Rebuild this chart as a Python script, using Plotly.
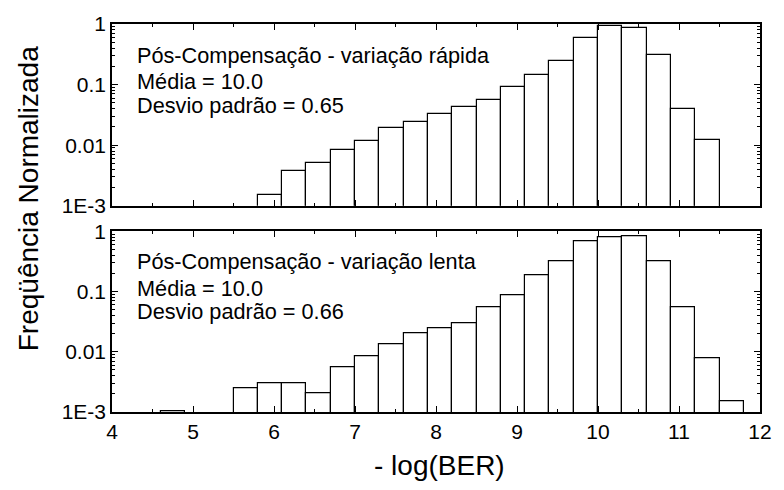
import plotly.graph_objects as go
from plotly.subplots import make_subplots

# Bin centres (-log(BER)), bin width 0.3
x_rapida = [5.95, 6.25, 6.55, 6.85, 7.15, 7.45, 7.75, 8.05, 8.35, 8.65,
            8.95, 9.25, 9.55, 9.85, 10.15, 10.45, 10.75, 11.05, 11.35]
y_rapida = [0.00153, 0.0038, 0.00501, 0.00836, 0.0117, 0.0193, 0.0242, 0.0330,
            0.0419, 0.0558, 0.0908, 0.1425, 0.241, 0.577, 0.940, 0.850, 0.313,
            0.0398, 0.0120]

x_lenta = [4.75, 5.65, 5.95, 6.25, 6.55, 6.85, 7.15, 7.45, 7.75, 8.05, 8.35,
           8.65, 8.95, 9.25, 9.55, 9.85, 10.15, 10.45, 10.75, 11.05, 11.35, 11.65]
y_lenta = [0.00101, 0.00249, 0.0030, 0.0030, 0.00201, 0.00554, 0.00857, 0.0133,
           0.0203, 0.0242, 0.0295, 0.0538, 0.0876, 0.185, 0.321, 0.679, 0.789,
           0.829, 0.321, 0.0551, 0.00776, 0.00149]

bin_width = 0.3

x_tickvals = [4, 5, 6, 7, 8, 9, 10, 11, 12]
x_minor = [4.5, 5.5, 6.5, 7.5, 8.5, 9.5, 10.5, 11.5]
y_tickvals = [0.001, 0.01, 0.1, 1]
y_ticktext = ["1E-3", "0.01", "0.1", "1"]
y_minor = [m * 10 ** e for e in (-3, -2, -1) for m in range(2, 10)]

texts_rapida = ["Pós-Compensação - variação rápida", "Média = 10.0", "Desvio padrão = 0.65"]
texts_lenta = ["Pós-Compensação - variação lenta", "Média = 10.0", "Desvio padrão = 0.66"]

FONT = "Liberation Sans, Arial, sans-serif"

fig = make_subplots(rows=2, cols=1, shared_xaxes=False, vertical_spacing=0.0)

fig.add_trace(go.Bar(x=x_rapida, y=y_rapida, width=bin_width,
                     marker=dict(color="white", line=dict(color="black", width=1.2)),
                     showlegend=False), row=1, col=1)
fig.add_trace(go.Bar(x=x_lenta, y=y_lenta, width=bin_width,
                     marker=dict(color="white", line=dict(color="black", width=1.2)),
                     showlegend=False), row=2, col=1)

common_x = dict(range=[4, 12], tickmode="array", tickvals=x_tickvals,
                ticks="inside", ticklen=6, tickwidth=1.2, tickcolor="black",
                showline=True, linecolor="black", linewidth=1.5, mirror="allticks",
                showgrid=False, zeroline=False,
                minor=dict(tickvals=x_minor, ticks="inside", ticklen=3, tickwidth=1, tickcolor="black"),
                tickfont=dict(family=FONT, size=21, color="black"))
common_y = dict(type="log", range=[-3, 0], tickmode="array", tickvals=y_tickvals, ticktext=y_ticktext,
                ticks="inside", ticklen=6, tickwidth=1.2, tickcolor="black",
                showline=True, linecolor="black", linewidth=1.5, mirror="allticks",
                showgrid=False, zeroline=False,
                minor=dict(tickvals=y_minor, ticks="inside", ticklen=3, tickwidth=1, tickcolor="black"),
                tickfont=dict(family=FONT, size=21, color="black"))

fig.update_xaxes(**common_x)
fig.update_xaxes(showticklabels=False, row=1, col=1)
fig.update_yaxes(**common_y)

fig.update_layout(
    width=784, height=490,
    margin=dict(l=112, r=13, t=17, b=78),
    plot_bgcolor="white", paper_bgcolor="white",
    bargap=0,
    font=dict(family=FONT, color="black"),
    xaxis=dict(domain=[0, 1]),
    yaxis=dict(domain=[0.5316, 1.0]),
    yaxis2=dict(domain=[0.0, 0.4658]),
)

ann = []
for txt, py in zip(texts_rapida, [0.919, 0.851, 0.790]):
    ann.append(dict(text=txt, x=0.036, y=py, xref="paper", yref="paper",
                    xanchor="left", yanchor="middle", showarrow=False,
                    font=dict(family=FONT, size=21.7, color="black")))
for txt, py in zip(texts_lenta, [0.3866, 0.319, 0.258]):
    ann.append(dict(text=txt, x=0.036, y=py, xref="paper", yref="paper",
                    xanchor="left", yanchor="middle", showarrow=False,
                    font=dict(family=FONT, size=21.7, color="black")))
ann.append(dict(text="- log(BER)", x=(445 - 112) / 659, y=(412 - 466) / 395,
                xref="paper", yref="paper", xanchor="center", yanchor="middle",
                showarrow=False, font=dict(family=FONT, size=28, color="black")))
ann.append(dict(text="Freqüência Normalizada", x=(27 - 112) / 659, y=(412 - 195) / 395,
                xref="paper", yref="paper", xanchor="center", yanchor="middle",
                textangle=-90, showarrow=False, font=dict(family=FONT, size=28, color="black")))
fig.update_layout(annotations=ann)

fig.write_html("out.html")
